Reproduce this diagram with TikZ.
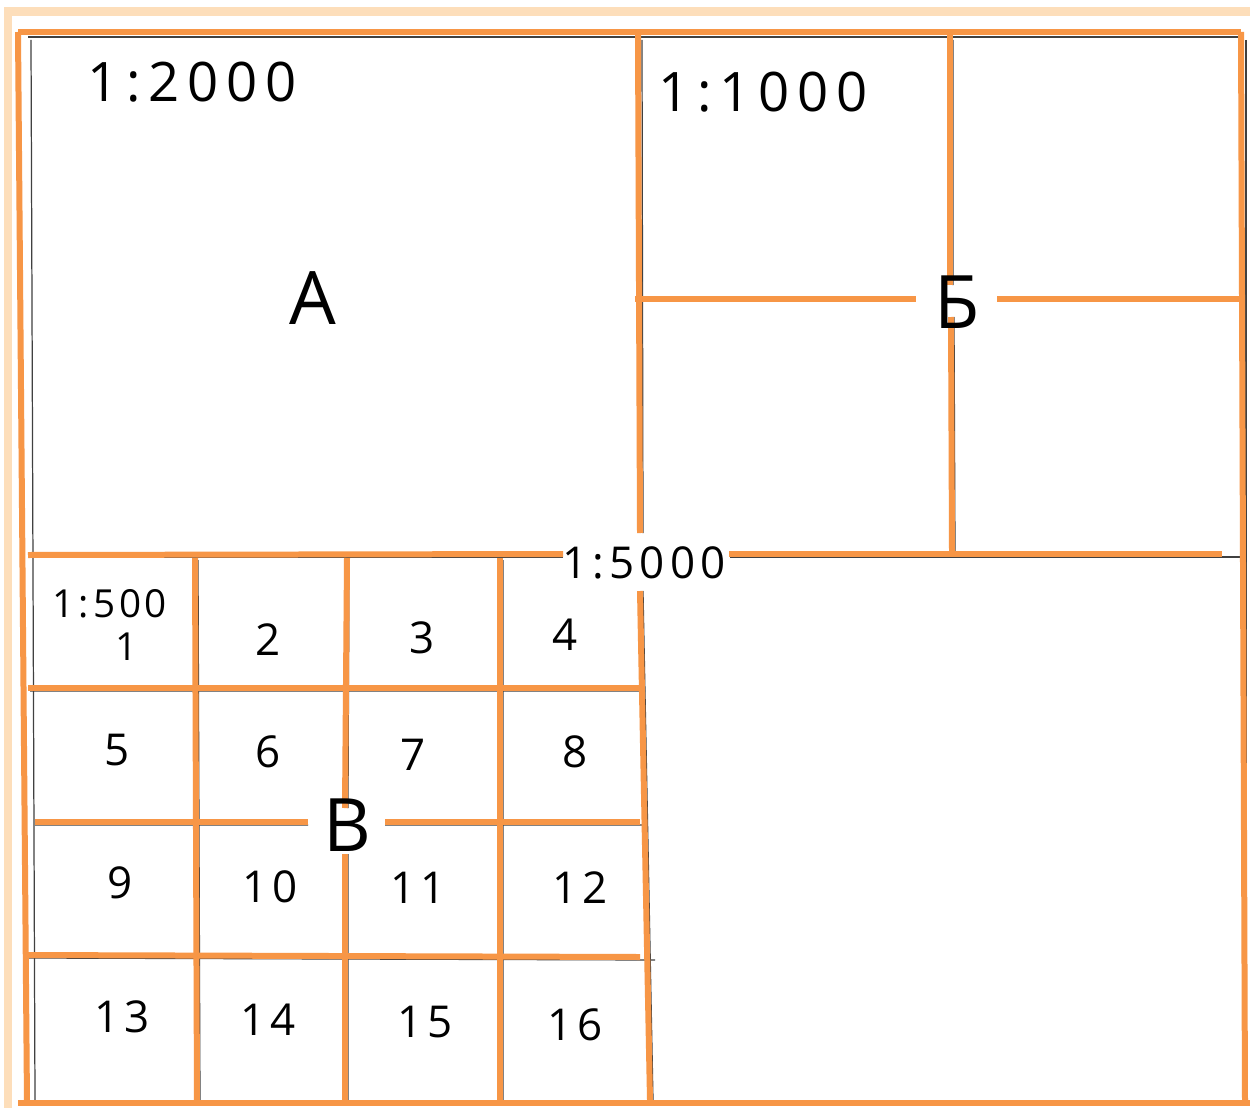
\documentclass[tikz,border=0pt]{standalone}
\usepackage{fontspec}
\setmainfont{Open Sans}
\definecolor{org}{RGB}{247,150,70}
\definecolor{peach}{RGB}{253,222,186}
\begin{document}
\begin{tikzpicture}[x=0.02cm,y=-0.02cm,
  ol/.style={draw=org,line width=0.12cm},
  bl/.style={draw=black!75,line width=0.7pt},
  lab/.style={inner sep=0pt,font=\fontsize{25}{27}\selectfont\addfontfeatures{LetterSpace=12}},
  sm/.style={inner sep=0pt,font=\fontsize{22}{24}\selectfont\addfontfeatures{LetterSpace=10}},
  big/.style={inner sep=0pt,font=\fontsize{31}{33}\selectfont\addfontfeatures{LetterSpace=14}},
  let/.style={inner sep=0pt,font=\fontsize{42}{44}\selectfont}]
\useasboundingbox (0,0) rectangle (1250,1108);
\fill[white] (0,0) rectangle (1250,1108);
% faded outer band
\draw[peach,line width=0.18cm] (8,1108) -- (8,12) -- (1250,12);
% thin hand-drawn black lines
\draw[bl] (31,40) -- (35,1100);
\draw[bl] (28,37) -- (1240,37);
\draw[bl] (1246,40) -- (1246,1103);
\draw[bl] (642,40) -- (643,533) (643,591) -- (653,1100);
\draw[bl] (953,40) -- (953,285) (954,317) -- (955,552);
\draw[bl] (730,557) -- (1240,557);
\draw[bl] (30,557) -- (563,557);
\draw[bl] (198,560) -- (200,1103) (349,560) -- (348,808) (348,854) -- (348,1103) (503,560) -- (503,1103);
\draw[bl] (30,691) -- (645,691) (35,825) -- (308,825) (385,825) -- (642,825) (28,958) -- (655,960);
% orange frame
\draw[ol] (18,32) -- (1241,32);
\draw[ol] (18,32) -- (27,1103);
\draw[ol] (1241,32) -- (1245,1103);
\draw[ol] (18,1103) -- (1250,1103);
% 1:5000 cross
\draw[ol] (638,35) -- (640,533);
\draw[ol] (640,591) -- (650,1100);
\draw[ol] (28,555) -- (563,554);
\draw[ol] (729,554) -- (1222,554);
% 1:1000 cross
\draw[ol] (950,35) -- (950,285);
\draw[ol] (951,317) -- (952,552);
\draw[ol] (635,299) -- (916,299);
\draw[ol] (997,299) -- (1240,299);
% 1:500 grid
\draw[ol] (195,558) -- (197,1103);
\draw[ol] (347,558) -- (345,808);
\draw[ol] (345,854) -- (345,1103);
\draw[ol] (500,558) -- (500,1103);
\draw[ol] (28,688) -- (640,688);
\draw[ol] (35,822) -- (308,822);
\draw[ol] (385,822) -- (640,822);
\draw[ol] (25,955) -- (640,957);
% labels
\node[big] (s2000) at (192,82) {1:2000};
\node[big] (s1000) at (763,92) {1:1000};
\node[let] (A) at (313,298) {A};
\node[let] (Be) at (957,302) {Б};
\node[lab] (s5000) at (644,563) {1:5000};
\node[let] (B) at (347,825) {B};
\node[sm] (s500) at (110,604) {1:500};
\node[sm] (n1) at (127,647) {1};
\node[lab] (n2) at (268,640) {2};
\node[lab] (n3) at (422,638) {3};
\node[lab] (n4) at (565,635) {4};
\node[lab] (n5) at (117,750) {5};
\node[lab] (n6) at (268,752) {6};
\node[lab] (n7) at (413,755) {7};
\node[lab] (n8) at (575,752) {8};
\node[lab] (n9) at (120,883) {9};
\node[lab] (n10) at (270,887) {10};
\node[lab] (n11) at (418,888) {11};
\node[lab] (n12) at (580,888) {12};
\node[lab] (n13) at (122,1017) {13};
\node[lab] (n14) at (268,1020) {14};
\node[lab] (n15) at (425,1022) {15};
\node[lab] (n16) at (575,1025) {16};
\end{tikzpicture}
\end{document}
